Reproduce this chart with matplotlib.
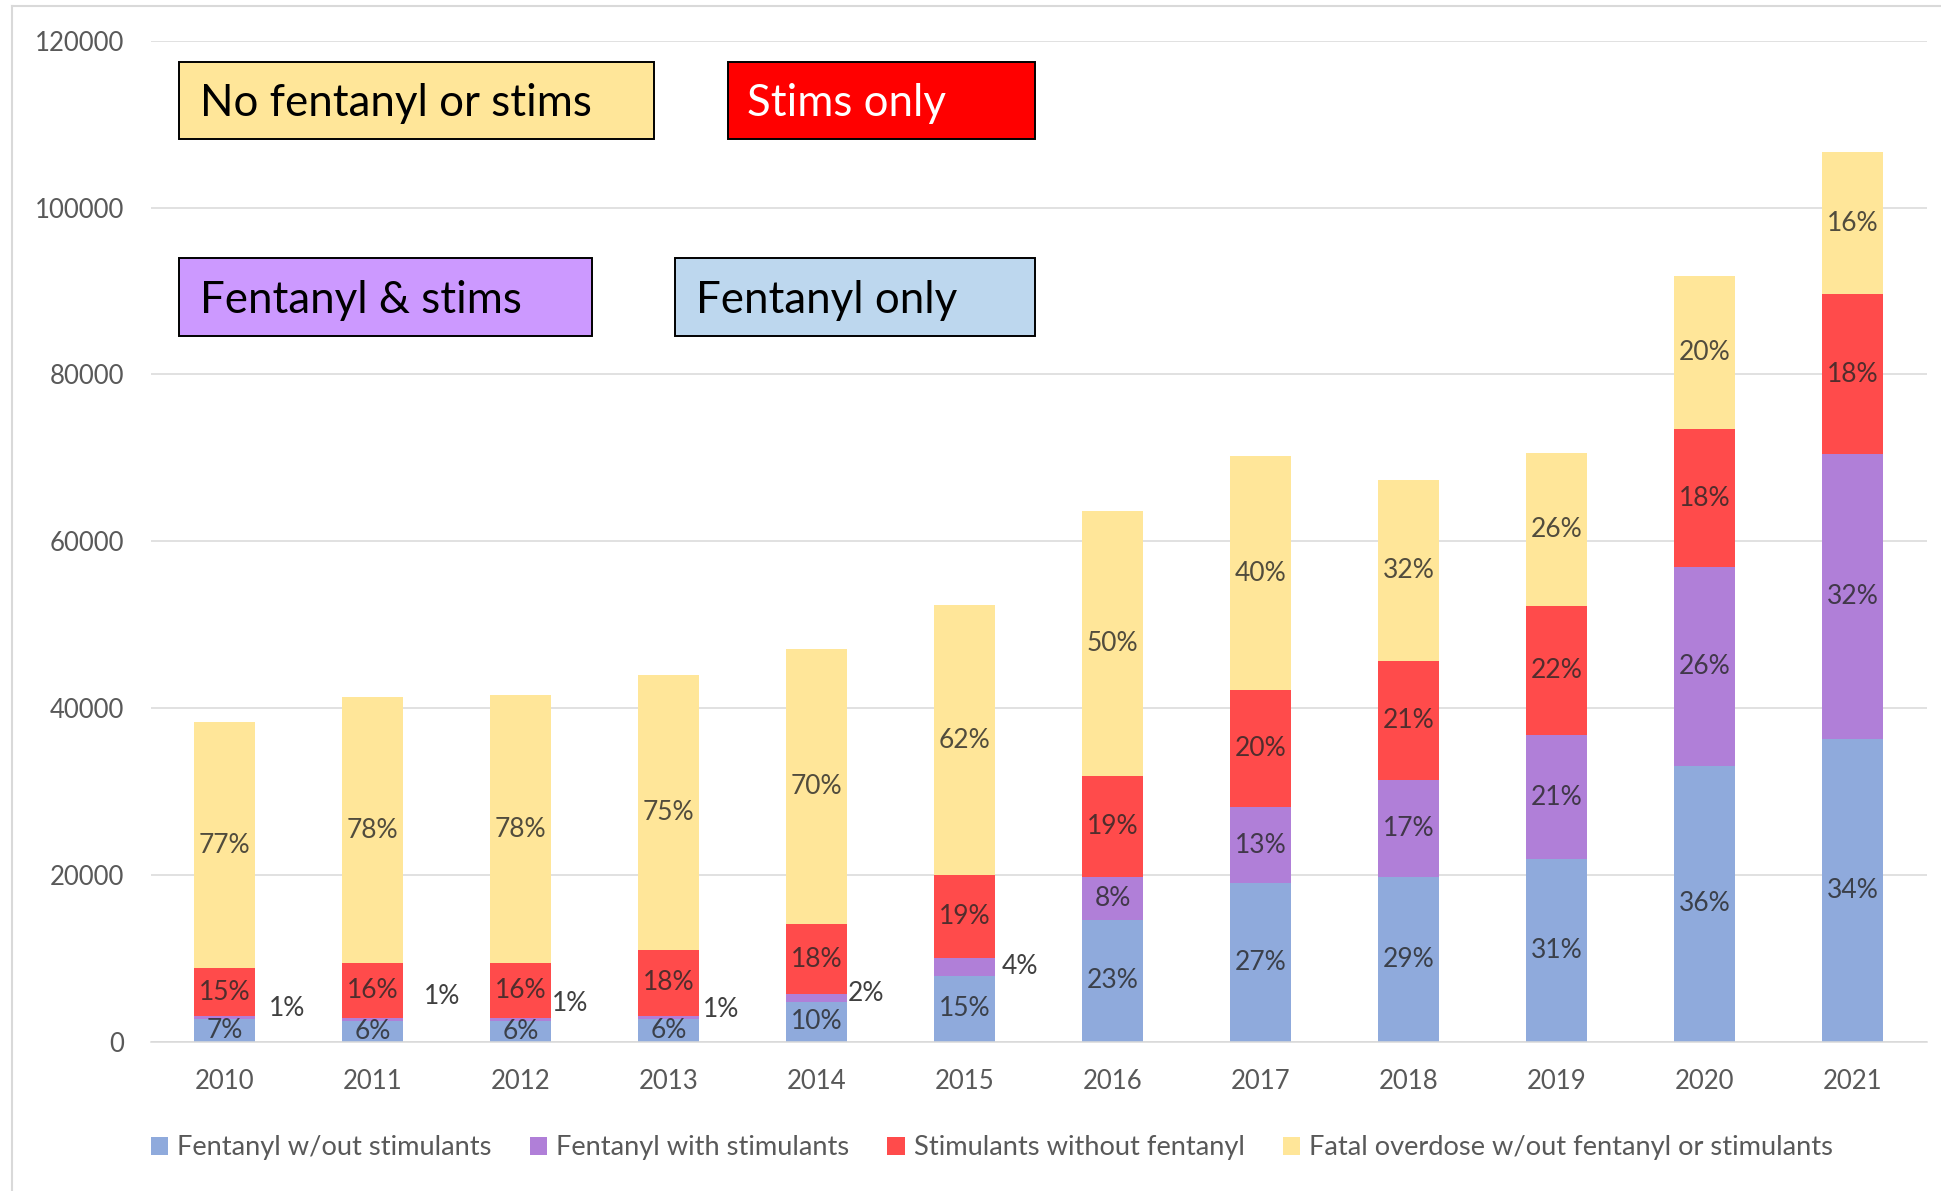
import matplotlib
matplotlib.use("Agg")
import matplotlib.pyplot as plt
from matplotlib.patches import Rectangle, Patch
from matplotlib.lines import Line2D
import numpy as np

# ---- data ----
years = ["2010", "2011", "2012", "2013", "2014", "2015",
         "2016", "2017", "2018", "2019", "2020", "2021"]
total_deaths = [38300, 41300, 41500, 44000, 47100, 52400,
                63600, 70200, 67400, 70600, 91800, 106700]
pct_fentanyl_only = [7, 6, 6, 6, 10, 15, 23, 27, 29, 31, 36, 34]
pct_fentanyl_stims = [1, 1, 1, 1, 2, 4, 8, 13, 17, 21, 26, 32]
pct_stims_only = [15, 16, 16, 18, 18, 19, 19, 20, 21, 22, 18, 18]
pct_neither = [77, 78, 78, 75, 70, 62, 50, 40, 32, 26, 20, 16]
series_names = ["Fentanyl w/out stimulants", "Fentanyl with stimulants",
                "Stimulants without fentanyl",
                "Fatal overdose w/out fentanyl or stimulants"]
y_ticks = [0, 20000, 40000, 60000, 80000, 100000, 120000]

# ---- styling ----
plt.rcParams["font.family"] = ["Lato", "DejaVu Sans"]
series_colors = ["#8FAADC", "#B07FD8", "#FF4B4B", "#FFE699"]
grid_gray = "#D9D9D9"
text_gray = "#595959"

W, H = 1941, 1191
fig = plt.figure(figsize=(W / 100, H / 100), dpi=100)
ax = fig.add_axes([150.8 / W, 1 - 1041.5 / H, 1776 / W, 1000.5 / H])

x = np.arange(len(years))
bar_w = 0.41
pcts = np.array([pct_fentanyl_only, pct_fentanyl_stims, pct_stims_only, pct_neither], float)
totals = np.array(total_deaths, float)
segments = totals * pcts / pcts.sum(axis=0)

# small purple shares whose labels sit beside the bar: (x offset, y position)
side_labels = {0: (0.42, 4000), 1: (0.47, 5400), 2: (0.33, 4600),
               3: (0.35, 3800), 4: (0.33, 5800), 5: (0.37, 9000)}

bottom = np.zeros(len(years))
for s in range(4):
    ax.bar(x, segments[s], bar_w, bottom=bottom, color=series_colors[s],
           edgecolor="none", zorder=2)
    for i in range(len(years)):
        label = f"{int(pcts[s, i])}%"
        if s == 1 and i in side_labels:
            dx, yy = side_labels[i]
            ax.text(x[i] + dx, yy, label, ha="center", va="center",
                    fontsize=19, color="#404040", zorder=3)
        else:
            yc = bottom[i] + segments[s, i] / 2
            ax.text(x[i], yc, label, ha="center", va="center",
                    fontsize=19, color="#262626", alpha=0.8, zorder=3)
    bottom += segments[s]

ax.set_xlim(-0.5, len(years) - 0.5)
ax.set_ylim(0, 120000)
ax.set_yticks(y_ticks)
ax.set_yticklabels([str(v) for v in y_ticks])
ax.set_xticks(x)
ax.set_xticklabels(years)
ax.yaxis.grid(True, color=grid_gray, linewidth=1.1, zorder=0)
ax.set_axisbelow(True)
for side in ["top", "right", "left"]:
    ax.spines[side].set_visible(False)
ax.spines["bottom"].set_color(grid_gray)
ax.spines["bottom"].set_linewidth(1.1)
ax.tick_params(axis="x", length=0, labelsize=18.5, colors=text_gray, pad=19.5)
ax.tick_params(axis="y", length=0, labelsize=18.5, colors=text_gray, pad=19)

# ---- category call-out boxes ----
def fig_rect(x0, y0, x1, y1):
    return (x0 / W, 1 - y1 / H), (x1 - x0) / W, (y1 - y0) / H

callouts = [
    ((179, 62, 654, 139), "#FFE699", "No fentanyl or stims", "black", 200),
    ((728, 62, 1035, 139), "#FF0000", "Stims only", "white", 747),
    ((179, 258, 592, 336), "#CC99FF", "Fentanyl & stims", "black", 200),
    ((675, 258, 1035, 336), "#BDD7EE", "Fentanyl only", "black", 696),
]
for (x0, y0, x1, y1), fc, txt, tc, tx in callouts:
    xy, w, h = fig_rect(x0, y0, x1, y1)
    fig.patches.append(Rectangle(xy, w, h, transform=fig.transFigure,
                                 facecolor=fc, edgecolor="black", linewidth=1.4,
                                 zorder=5))
    base = (y0 + y1) / 2 + 16
    fig.text(tx / W, 1 - base / H, txt, ha="left", va="baseline",
             fontsize=31.6, color=tc, zorder=6)

# ---- outer frame ----
fig.add_artist(Line2D([12 / W, 1], [1 - 6 / H, 1 - 6 / H], transform=fig.transFigure,
                      color=grid_gray, linewidth=1.5))
fig.add_artist(Line2D([12 / W, 12 / W], [0, 1 - 6 / H], transform=fig.transFigure,
                      color=grid_gray, linewidth=1.5))

# ---- legend ----
handles = [Patch(facecolor=c, edgecolor="none") for c in series_colors]
fig.legend(handles, series_names, loc="center", bbox_to_anchor=(992 / W, 1 - 1148 / H),
           ncol=4, frameon=False, fontsize=19.6, handlelength=0.63, handleheight=0.63,
           handletextpad=0.33, columnspacing=1.4, labelcolor=text_gray)

fig.savefig("out.png", dpi=100)
